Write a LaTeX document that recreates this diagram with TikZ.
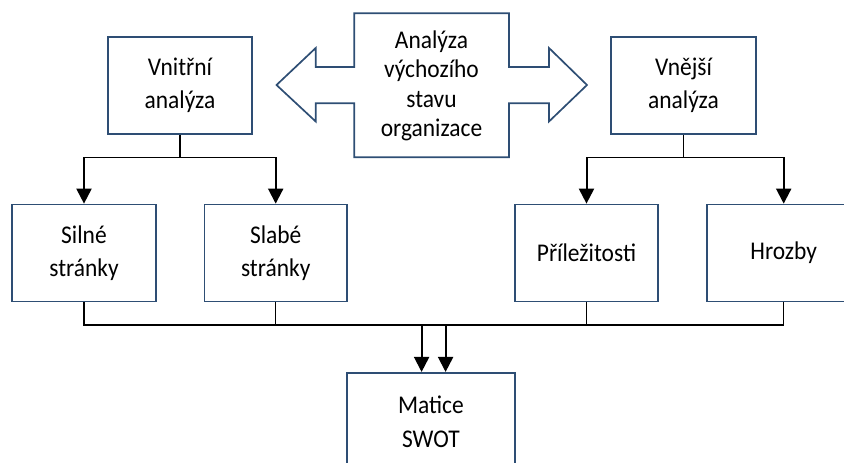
\documentclass[tikz,border=0pt]{standalone}
\usepackage{fontspec}
\setmainfont{Carlito}[FakeStretch=0.92]
\usetikzlibrary{arrows.meta}
\definecolor{boxc}{HTML}{2E4E74}
\tikzset{
  box/.style={draw=boxc, line width=1.7pt, rectangle, align=center, inner sep=0pt,
    font=\fontsize{25.5}{33.5}\selectfont, minimum height=97pt},
  lin/.style={line width=1.3pt, black},
  arr/.style={line width=2pt, black, -{Triangle[length=15pt,width=15pt]}},
  bigarrow/.style={draw=boxc, line width=1.7pt, line join=miter},
}
\begin{document}
\begin{tikzpicture}[x=1pt,y=-1pt]
\useasboundingbox (0,0) rectangle (844,463);
% top boxes
\node[box, minimum width=144pt] (vni) at (180,85.5) {Vnitřní\\analýza};
\node[box, minimum width=145pt] (vne) at (683.5,85.5) {Vnější\\analýza};
% central double arrow
\draw[bigarrow] (354.3,13.3) -- (509,13.3) -- (509,67) -- (549,67) -- (549,48) -- (587,85)
  -- (549,121.5) -- (549,103.3) -- (509,103.3) -- (509,157.3) -- (354.3,157.3)
  -- (354.3,103.3) -- (315.7,103.3) -- (315.7,121.5) -- (276.5,85) -- (315.7,48)
  -- (315.7,67) -- (354.3,67) -- cycle;
\node[align=center, font=\fontsize{25.5}{29.5}\selectfont] (ctr) at (431.5,86)
  {Analýza\\výchozího\\stavu\\organizace};
% middle boxes
\node[box, minimum width=144pt] (sil) at (84,253) {Silné\\stránky};
\node[box, minimum width=142.5pt] (sla) at (275.7,253) {Slabé\\stránky};
\node[box, minimum width=143pt] (pri) at (586.5,253) {Příležitosti};
\node[box, minimum width=154pt] (hro) at (783.7,253) {Hrozby};
% bottom box
\node[box, minimum width=168.5pt, minimum height=97.6pt] (mat) at (430.9,421.6) {Matice\\SWOT};
% upper connectors
\coordinate (jl) at (180,157.3);
\coordinate (jr) at (685,157.3);
\draw[lin] (vni.south) -- (jl);
\draw[lin] (jl -| sil.north) -- (jl -| sla.north);
\draw[arr] (jl -| sil.north) -- (sil.north);
\draw[arr] (jl -| sla.north) -- (sla.north);
\draw[lin] (vne.south) -- (vne.south |- jr);
\draw[lin] (jr -| pri.north) -- (jr -| hro.north);
\draw[arr] (jr -| pri.north) -- (pri.north);
\draw[arr] (jr -| hro.north) -- (hro.north);
% lower bus
\coordinate (bus) at (0,325);
\draw[lin] (sil.south) -- (sil.south |- bus) -- (hro.south |- bus) -- (hro.south);
\draw[lin] (sla.south) -- (sla.south |- bus);
\draw[lin] (pri.south) -- (pri.south |- bus);
\draw[arr] ([xshift=-9.3pt]mat.north |- bus) -- ([xshift=-9.3pt]mat.north);
\draw[arr] ([xshift=14.7pt]mat.north |- bus) -- ([xshift=14.7pt]mat.north);
\end{tikzpicture}
\end{document}
